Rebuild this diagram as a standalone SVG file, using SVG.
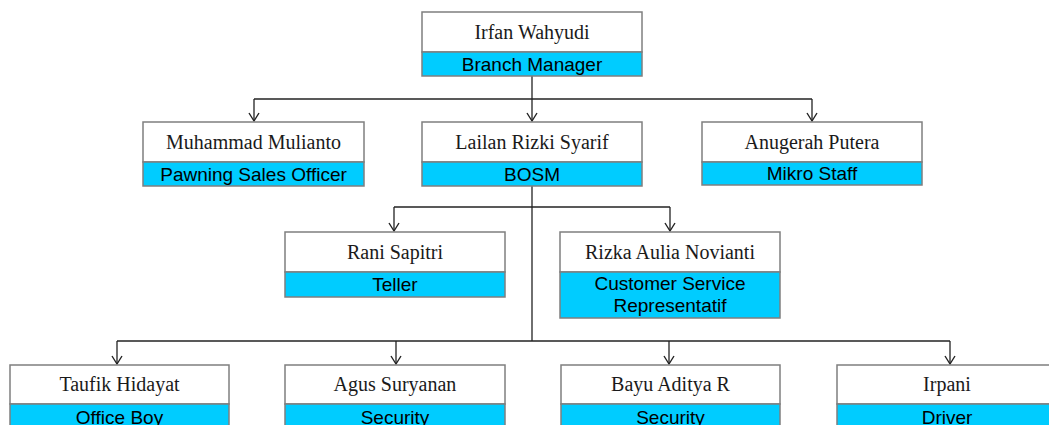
<svg xmlns="http://www.w3.org/2000/svg" width="1049" height="425" viewBox="0 0 1049 425">
<style>
.box{fill:#fff;stroke:#7f7f7f;stroke-width:1.5}
.role{fill:#00ccff;stroke:#7f7f7f;stroke-width:1.5}
.nm{font-family:"Liberation Serif","Times New Roman",serif;font-size:20px;fill:#1a1a1a;text-anchor:middle}
.rl{font-family:"Liberation Sans",Arial,sans-serif;font-size:19px;fill:#000;text-anchor:middle}
.ln{fill:none;stroke:#222;stroke-width:1.3}
</style>
<defs>
<marker id="ah" markerWidth="12" markerHeight="12" refX="10.5" refY="6" orient="auto" markerUnits="userSpaceOnUse" viewBox="0 0 12 12">
<path d="M2.5,1 L10.5,6 L2.5,11" fill="none" stroke="#222" stroke-width="1.4"/>
</marker>
</defs>
<g id="connectors">
<path class="ln" d="M532,76 V121" marker-end="url(#ah)"/>
<path class="ln" d="M254,99 H812"/>
<path class="ln" d="M254,99 V121" marker-end="url(#ah)"/>
<path class="ln" d="M812,99 V121" marker-end="url(#ah)"/>
<path class="ln" d="M532,186 V341"/>
<path class="ln" d="M394,207 H670"/>
<path class="ln" d="M394,207 V231" marker-end="url(#ah)"/>
<path class="ln" d="M670,207 V231" marker-end="url(#ah)"/>
<path class="ln" d="M117,341 H950"/>
<path class="ln" d="M117,341 V364" marker-end="url(#ah)"/>
<path class="ln" d="M396,341 V364" marker-end="url(#ah)"/>
<path class="ln" d="M669,341 V364" marker-end="url(#ah)"/>
<path class="ln" d="M950,341 V364" marker-end="url(#ah)"/>
</g>
<g id="n-irfan">
<rect class="box" x="422" y="12" width="220" height="40"/>
<rect class="role" x="422" y="52" width="220" height="24"/>
<text class="nm" x="532" y="39">Irfan Wahyudi</text>
<text class="rl" x="532" y="71">Branch Manager</text>
</g>
<g id="n-muhammad">
<rect class="box" x="143" y="122" width="221" height="40"/>
<rect class="role" x="143" y="162" width="221" height="24"/>
<text class="nm" x="253.5" y="149">Muhammad Mulianto</text>
<text class="rl" x="253.5" y="181">Pawning Sales Officer</text>
</g>
<g id="n-lailan">
<rect class="box" x="422" y="122" width="220" height="40"/>
<rect class="role" x="422" y="162" width="220" height="24"/>
<text class="nm" x="532" y="149">Lailan Rizki Syarif</text>
<text class="rl" x="532" y="181">BOSM</text>
</g>
<g id="n-anugerah">
<rect class="box" x="702" y="122" width="220" height="40"/>
<rect class="role" x="702" y="162" width="220" height="23"/>
<text class="nm" x="812" y="149">Anugerah Putera</text>
<text class="rl" x="812" y="180">Mikro Staff</text>
</g>
<g id="n-rani">
<rect class="box" x="285" y="232" width="220" height="40"/>
<rect class="role" x="285" y="272" width="220" height="25"/>
<text class="nm" x="395" y="259">Rani Sapitri</text>
<text class="rl" x="395" y="291">Teller</text>
</g>
<g id="n-rizka">
<rect class="box" x="560" y="232" width="220" height="40"/>
<rect class="role" x="560" y="272" width="220" height="46"/>
<text class="nm" x="670" y="259">Rizka Aulia Novianti</text>
<text class="rl" x="670" y="290">Customer Service</text>
<text class="rl" x="670" y="312">Representatif</text>
</g>
<g id="n-taufik">
<rect class="box" x="10" y="365" width="219" height="39"/>
<rect class="role" x="10" y="404" width="219" height="30"/>
<text class="nm" x="119.5" y="391">Taufik Hidayat</text>
<text class="rl" x="119.5" y="424">Office Boy</text>
</g>
<g id="n-agus">
<rect class="box" x="285" y="365" width="220" height="39"/>
<rect class="role" x="285" y="404" width="220" height="30"/>
<text class="nm" x="395" y="391">Agus Suryanan</text>
<text class="rl" x="395" y="424">Security</text>
</g>
<g id="n-bayu">
<rect class="box" x="561" y="365" width="219" height="39"/>
<rect class="role" x="561" y="404" width="219" height="30"/>
<text class="nm" x="670.5" y="391">Bayu Aditya R</text>
<text class="rl" x="670.5" y="424">Security</text>
</g>
<g id="n-irpani">
<rect class="box" x="837" y="365" width="220" height="39"/>
<rect class="role" x="837" y="404" width="220" height="30"/>
<text class="nm" x="947" y="391">Irpani</text>
<text class="rl" x="947" y="424">Driver</text>
</g>
</svg>
